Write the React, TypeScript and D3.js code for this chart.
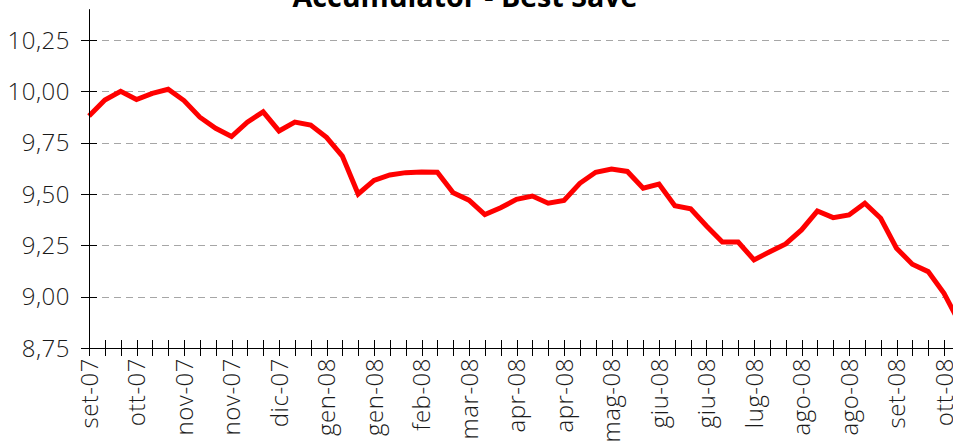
import React, { useEffect, useRef } from 'react';
import * as d3 from 'd3';

// weekly values, set-07 .. ott-08 (last point runs off the right edge)
const values = [
  9.88, 9.958, 10.0, 9.96, 9.99, 10.01, 9.955, 9.874, 9.82, 9.78,
  9.85, 9.9, 9.807, 9.85, 9.836, 9.776, 9.685, 9.5, 9.566, 9.593,
  9.604, 9.607, 9.606, 9.506, 9.47, 9.4, 9.433, 9.474, 9.49, 9.455,
  9.469, 9.552, 9.606, 9.622, 9.61, 9.528, 9.548, 9.443, 9.428, 9.344,
  9.266, 9.266, 9.179, 9.219, 9.257, 9.325, 9.417, 9.385, 9.398, 9.455,
  9.382, 9.236, 9.158, 9.122, 9.016, 8.87,
];

// one label every third week
const tickLabels = [
  'set-07', 'ott-07', 'nov-07', 'nov-07', 'dic-07', 'gen-08', 'gen-08',
  'feb-08', 'mar-08', 'apr-08', 'apr-08', 'mag-08', 'giu-08', 'giu-08',
  'lug-08', 'ago-08', 'ago-08', 'set-08', 'ott-08',
];
const labelEvery = 3;

const yTicks = [8.75, 9.0, 9.25, 9.5, 9.75, 10.0, 10.25];

const title = 'Accumulator - Best Save';

const App = () => {
  const svgRef = useRef<SVGSVGElement>(null);

  useEffect(() => {
    const W = 953;
    const H = 444;
    const svg = d3.select(svgRef.current).attr('width', W).attr('height', H);
    svg.selectAll('*').remove();

    const left = 89;
    const bottom = 348;
    const font = "'Open Sans', sans-serif";

    const x = d3.scaleLinear().domain([0, 54]).range([left, 944]);
    const y = d3.scaleLinear().domain([8.75, 10.25]).range([bottom, 40]);
    const yTop = 10.4;

    // dashed gridlines
    svg.append('g')
      .selectAll('line')
      .data(yTicks.filter(d => d > 8.75))
      .enter().append('line')
      .attr('x1', left + 1)
      .attr('x2', W)
      .attr('y1', d => Math.round(y(d)) + 0.5)
      .attr('y2', d => Math.round(y(d)) + 0.5)
      .attr('stroke', '#a6a6a6')
      .attr('stroke-width', 1)
      .attr('stroke-dasharray', '7,5');

    // series line
    const line = d3.line<number>()
      .x((d, i) => x(i))
      .y(d => y(d));

    svg.append('path')
      .datum(values)
      .attr('d', line)
      .attr('fill', 'none')
      .attr('stroke', '#ff0000')
      .attr('stroke-width', 5)
      .attr('stroke-linejoin', 'miter');

    // y axis
    const yAxis = svg.append('g');
    yAxis.append('line')
      .attr('x1', left + 0.5).attr('x2', left + 0.5)
      .attr('y1', y(yTop)).attr('y2', bottom + 8)
      .attr('stroke', '#000');
    yAxis.selectAll('.ytick')
      .data(yTicks)
      .enter().append('line')
      .attr('x1', left - 8).attr('x2', left + 8)
      .attr('y1', d => Math.round(y(d)) + 0.5)
      .attr('y2', d => Math.round(y(d)) + 0.5)
      .attr('stroke', '#000');
    yAxis.selectAll('.ylabel')
      .data(yTicks)
      .enter().append('text')
      .attr('x', left - 19)
      .attr('y', d => y(d))
      .attr('dy', '0.36em')
      .attr('text-anchor', 'end')
      .attr('font-family', font)
      .attr('font-weight', 300)
      .attr('font-size', 24)
      .attr('letter-spacing', 0.5)
      .attr('fill', '#1a1a1a')
      .text(d => d3.format('.2f')(d).replace('.', ','));

    // x axis
    const xAxis = svg.append('g');
    xAxis.append('line')
      .attr('x1', left).attr('x2', W)
      .attr('y1', bottom + 0.5).attr('y2', bottom + 0.5)
      .attr('stroke', '#000');
    xAxis.selectAll('.xtick')
      .data(d3.range(values.length))
      .enter().append('line')
      .attr('x1', d => Math.round(x(d)) + 0.5)
      .attr('x2', d => Math.round(x(d)) + 0.5)
      .attr('y1', bottom - 8)
      .attr('y2', bottom + 8)
      .attr('stroke', '#000');
    xAxis.selectAll('.xlabel')
      .data(tickLabels)
      .enter().append('text')
      .attr('transform', (d, i) => `translate(${x(i * labelEvery)},${bottom + 10}) rotate(-90)`)
      .attr('dy', '0.36em')
      .attr('text-anchor', 'end')
      .attr('font-family', font)
      .attr('font-weight', 300)
      .attr('font-size', 24)
      .attr('letter-spacing', 0.5)
      .attr('fill', '#1a1a1a')
      .text(d => d);

    // title, cut off at the top
    svg.append('text')
      .attr('x', 465)
      .attr('y', 7)
      .attr('text-anchor', 'middle')
      .attr('font-family', font)
      .attr('font-weight', 700)
      .attr('font-size', 28)
      .attr('textLength', 345)
      .attr('lengthAdjust', 'spacingAndGlyphs')
      .attr('fill', '#000')
      .text(title);
  }, []);

  return (
    <svg
      ref={svgRef}
      style={{ position: 'absolute', top: 0, left: 0, background: '#fff', overflow: 'hidden' }}
    />
  );
};

export default App;
